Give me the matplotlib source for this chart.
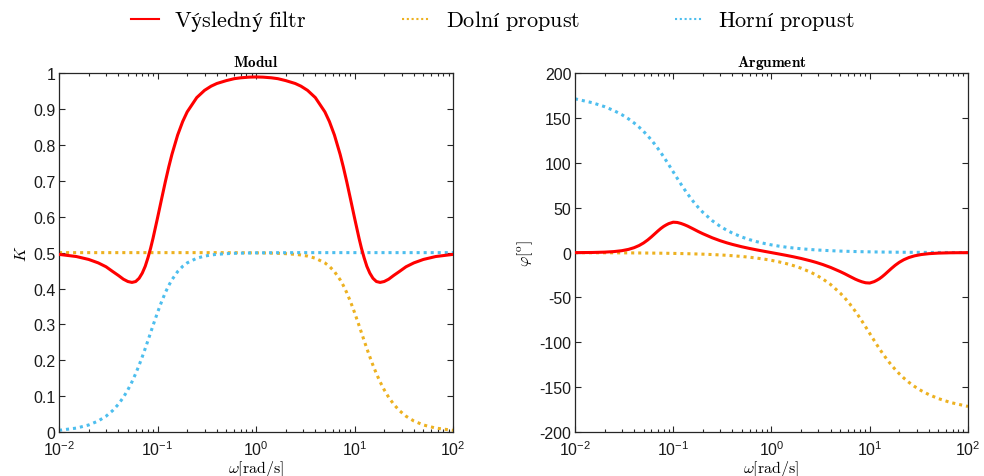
import matplotlib
matplotlib.use("Agg")
import matplotlib.pyplot as plt
from matplotlib.ticker import LogLocator, NullFormatter

plt.rcParams["font.family"] = ["Liberation Sans", "DejaVu Sans"]
plt.rcParams["mathtext.fontset"] = "custom"
plt.rcParams["mathtext.rm"] = "Liberation Sans"
plt.rcParams["mathtext.it"] = "Liberation Sans:italic"
plt.rcParams["mathtext.bf"] = "Liberation Sans:bold"
plt.rcParams["axes.unicode_minus"] = False

# frequency grid [rad/s]
omega = [0.01, 0.015, 0.02, 0.025, 0.03, 0.035, 0.04, 0.045, 0.05, 0.055,
         0.06, 0.065, 0.07, 0.075, 0.08, 0.085, 0.09, 0.1, 0.11, 0.12, 0.13,
         0.14, 0.16, 0.18, 0.2, 0.25, 0.3, 0.35, 0.4, 0.5, 0.6, 0.7, 0.85, 1.0,
         1.176, 1.429, 1.667, 2.0, 2.5, 2.857, 3.333, 4.0, 5.0, 5.556, 6.25,
         7.143, 7.692, 8.333, 9.091, 10.0, 11.11, 11.76, 12.5, 13.33, 14.29,
         15.38, 16.67, 18.18, 20.0, 22.22, 25.0, 28.57, 33.33, 40.0, 50.0,
         66.67, 100.0]

# modul
k_result = [0.4951, 0.4891, 0.4810, 0.4714, 0.4606, 0.4475, 0.4365, 0.4260,
            0.4195, 0.4170, 0.4195, 0.4285, 0.4430, 0.4620, 0.4860, 0.5120,
            0.5400, 0.5968, 0.6498, 0.6975, 0.7387, 0.7736, 0.8275, 0.8652,
            0.8920, 0.9318, 0.9520, 0.9637, 0.9711, 0.9792, 0.9845, 0.9870,
            0.9888, 0.9893,
            0.9888, 0.9870, 0.9845, 0.9792, 0.9711, 0.9637, 0.9520, 0.9318,
            0.8920, 0.8652, 0.8275, 0.7736, 0.7387, 0.6975, 0.6498, 0.5968,
            0.5400, 0.5120, 0.4860, 0.4620, 0.4430, 0.4285, 0.4195, 0.4170,
            0.4195, 0.4260, 0.4365, 0.4475, 0.4606, 0.4714, 0.4810, 0.4891,
            0.4951]
k_lowpass = [0.5] * 29 + [0.4998, 0.4998, 0.4997, 0.4995, 0.4994,
             0.4991, 0.4986, 0.4981, 0.4971, 0.4952, 0.4934, 0.4903, 0.4844,
             0.4714, 0.4618, 0.4472, 0.4244, 0.4085, 0.3886, 0.3637, 0.3333,
             0.2971, 0.2769, 0.2554, 0.2330, 0.2099, 0.1864, 0.1630, 0.1400,
             0.1179, 0.0969, 0.0775, 0.0599, 0.0443, 0.0310, 0.0199, 0.0112,
             0.0050]
k_highpass = [0.0050, 0.0112, 0.0199, 0.0310, 0.0443, 0.0599, 0.0775, 0.0969,
              0.1179, 0.1400, 0.1630, 0.1864, 0.2099, 0.2330, 0.2554, 0.2769,
              0.2971, 0.3333, 0.3637, 0.3886, 0.4085, 0.4244, 0.4472, 0.4618,
              0.4714, 0.4844, 0.4903, 0.4934, 0.4952, 0.4971, 0.4981, 0.4986,
              0.4991,
              0.4994, 0.4995, 0.4997, 0.4998, 0.4998] + [0.5] * 29

# argument [deg]
phi_result = [0.0, 0.16, 0.53, 1.17, 2.16, 3.59, 5.50, 7.92, 10.81, 14.09,
              17.56, 21.01, 24.20, 26.98, 29.22, 30.91, 32.3, 33.9, 33.6, 32.5,
              31.1, 29.6, 26.4, 23.5, 21.1, 16.5, 13.3, 10.95, 9.15, 6.50,
              4.61, 3.15, 1.41, 0.0,
              -1.41, -3.15, -4.61, -6.50, -9.15, -10.95, -13.3, -16.5, -21.1,
              -23.5, -26.4, -29.6, -31.1, -32.5, -33.6, -33.9, -32.3, -30.91,
              -29.22, -26.98, -24.20, -21.01, -17.56, -14.09, -10.81, -7.92,
              -5.50, -3.59, -2.16, -1.17, -0.53, -0.16, 0.0]
phi_lowpass = [-0.09, -0.13, -0.17, -0.21, -0.26, -0.30, -0.34, -0.39, -0.43,
               -0.47, -0.52, -0.56, -0.60, -0.64, -0.69, -0.73, -0.77, -0.86,
               -0.95, -1.03, -1.12, -1.20, -1.38, -1.55, -1.72, -2.15, -2.58,
               -3.01, -3.44, -4.30, -5.17, -6.02, -7.32, -8.62,
               -10.15, -12.34, -14.42, -17.35, -21.80, -25.02, -29.36, -35.54,
               -45.00, -50.32, -56.98, -65.43, -70.51, -76.26, -82.75, -90.00,
               -98.01, -102.28, -106.70, -111.25, -115.91, -120.64, -125.42,
               -130.21, -135.00, -139.75, -144.46, -149.10, -153.69, -158.20,
               -162.65, -167.04, -171.38]
phi_highpass = [171.38, 167.04, 162.65, 158.20, 153.69, 149.10, 144.46, 139.75,
                135.00, 130.21, 125.42, 120.64, 115.91, 111.25, 106.70, 102.28,
                98.01, 90.00, 82.75, 76.26, 70.51, 65.43, 56.98, 50.32, 45.00,
                35.54, 29.36, 25.02, 21.80, 17.35, 14.42, 12.34, 10.15,
                8.62, 7.32, 6.02, 5.17, 4.30, 3.44, 3.01, 2.58, 2.15, 1.72,
                1.55, 1.38, 1.20, 1.12, 1.03, 0.95, 0.86, 0.77, 0.73, 0.69,
                0.64, 0.60, 0.56, 0.52, 0.47, 0.43, 0.39, 0.34, 0.30, 0.26,
                0.21, 0.17, 0.13, 0.09]

labels = ["Výsledný filtr", "Dolní propust", "Horní propust"]

RED = "#FF0000"
YELLOW = "#EDB120"
CYAN = "#4DBEEE"
AXC = "#262626"
DOT = (0, (1, 1.3))

fig = plt.figure(figsize=(9.84, 4.77), dpi=100)
ax1 = fig.add_axes([0.060, 0.092, 0.4004, 0.7526])
ax2 = fig.add_axes([0.5843, 0.092, 0.3994, 0.7526])


def style_axes(ax, title, ylabel):
    ax.set_xscale("log")
    ax.set_xlim(1e-2, 1e2)
    ax.xaxis.set_major_locator(LogLocator(base=10, numticks=10))
    ax.xaxis.set_minor_locator(LogLocator(base=10, subs=range(2, 10), numticks=20))
    ax.xaxis.set_minor_formatter(NullFormatter())
    ax.tick_params(which="both", direction="in", top=True, right=True,
                   colors=AXC, labelcolor="#1a1a1a", labelsize=11.5, width=0.8)
    ax.tick_params(which="major", length=4.5)
    ax.tick_params(which="minor", length=2.5)
    ax.tick_params(axis="y", pad=2.5)
    ax.tick_params(axis="x", pad=5.3)
    for s in ax.spines.values():
        s.set_color(AXC)
        s.set_linewidth(0.9)
    ax.set_title(title, fontsize=11, pad=5, math_fontfamily="cm")
    ax.set_xlabel(r"$\omega[\mathrm{rad/s}]$", fontsize=11.5, labelpad=-0.3,
                  math_fontfamily="cm")
    ax.set_ylabel(ylabel, fontsize=11.5, labelpad=3, math_fontfamily="cm")


l1, = ax1.plot(omega, k_result, color=RED, lw=2.2, zorder=3)
l2, = ax1.plot(omega, k_lowpass, color=YELLOW, lw=2.2, ls=DOT, zorder=2)
l3, = ax1.plot(omega, k_highpass, color=CYAN, lw=2.2, ls=DOT, zorder=2)
ax1.set_ylim(0, 1)
ax1.set_yticks([0, 0.1, 0.2, 0.3, 0.4, 0.5, 0.6, 0.7, 0.8, 0.9, 1])
ax1.set_yticklabels(["0", "0.1", "0.2", "0.3", "0.4", "0.5", "0.6", "0.7",
                     "0.8", "0.9", "1"])
style_axes(ax1, r"$\mathbf{Modul}$", r"$K$")

ax2.plot(omega, phi_result, color=RED, lw=2.2, zorder=3)
ax2.plot(omega, phi_lowpass, color=YELLOW, lw=2.2, ls=DOT, zorder=2)
ax2.plot(omega, phi_highpass, color=CYAN, lw=2.2, ls=DOT, zorder=2)
ax2.set_ylim(-200, 200)
ax2.set_yticks(range(-200, 201, 50))
style_axes(ax2, r"$\mathbf{Argument}$", r"$\varphi[^\mathrm{o}]$")

leg = fig.legend([l1, l2, l3],
                 [r"$\mathrm{%s}$" % s.replace(" ", r"\ ") for s in labels],
                 loc="center", bbox_to_anchor=(0.501, 0.954),
                 ncol=3, frameon=False, fontsize=16, handlelength=1.26,
                 handletextpad=0.68, columnspacing=4.3)
for t in leg.get_texts():
    t.set_math_fontfamily("cm")
for h in leg.get_lines():
    h.set_linewidth(1.5)

fig.savefig("out.png", dpi=100)
